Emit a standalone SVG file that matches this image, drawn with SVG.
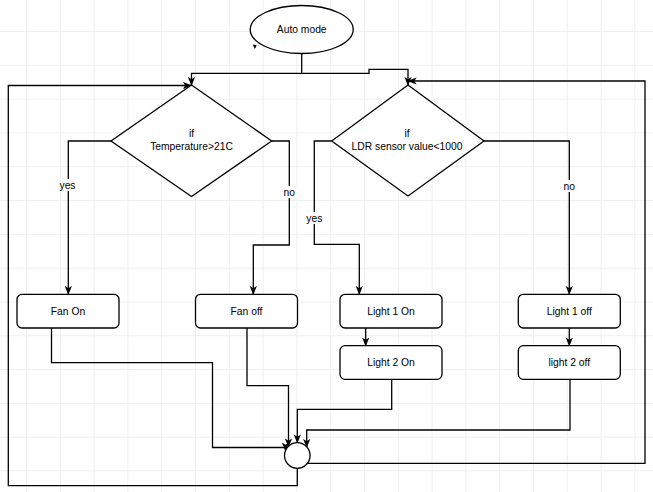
<svg xmlns="http://www.w3.org/2000/svg" width="653" height="492" viewBox="0 0 653 492">
<defs>
<pattern id="grid" patternUnits="userSpaceOnUse" x="26" y="31" width="33.8" height="33.8">
<path d="M0.5,0 V33.8 M0,0.5 H33.8" fill="none" stroke="#efefef" stroke-width="1"/>
</pattern>
<marker id="arr" viewBox="0 0 10 8" refX="9" refY="4" markerWidth="9" markerHeight="8" markerUnits="userSpaceOnUse" orient="auto">
<path d="M0,0 L10,4 L0,8 L2.5,4 z" fill="#000"/>
</marker>
<style>
.shape{fill:#fff;stroke:#000;stroke-width:1.3}
.edge{fill:none;stroke:#000;stroke-width:1.3;marker-end:url(#arr)}
text{font-family:"Liberation Sans",Arial,sans-serif;font-size:10.3px;fill:#000;text-anchor:middle}
.lbl{fill:#fff;stroke:none}
</style>
</defs>
<rect width="653" height="492" fill="#fff"/>
<rect width="653" height="492" fill="url(#grid)"/>

<g id="connectors">
<path class="edge" d="M301.7,53.5 V73.3 H191.5 V85"/>
<path class="edge" d="M301.7,73.3 H369 V69.3 H408 V85"/>
<path class="edge" d="M111,141 H68.3 V294"/>
<path class="edge" d="M271.7,141 H289.3 V245 H253.3 V294"/>
<path class="edge" d="M331.7,141 H314.3 V244.3 H359.3 V294"/>
<path class="edge" d="M484,141 H569.3 V294"/>
<path class="edge" d="M365.7,328 V345.7"/>
<path class="edge" d="M569.3,328 V345.7"/>
<path class="edge" d="M51.5,328 V362.7 H212.5 V447.5 H285.5 V450.5"/>
<path class="edge" d="M247,328 V385.7 H288.5 V446.5"/>
<path class="edge" d="M391.7,379.3 V409.3 H297.3 V442.5"/>
<path class="edge" d="M570,379.3 V430 H306.7 V447"/>
<path class="edge" d="M307.3,463.3 H645 V81 H408.5"/>
<path class="edge" d="M297.3,468.3 V485.7 H8.3 V85.5 H191"/>
<rect class="lbl" x="59" y="179" width="17" height="12"/>
<text x="67.5" y="189">yes</text>
<rect class="lbl" x="282" y="186" width="15" height="12"/>
<text x="289.3" y="196">no</text>
<rect class="lbl" x="306" y="212" width="17" height="12"/>
<text x="314.3" y="221.5">yes</text>
<rect class="lbl" x="562" y="180" width="15" height="12"/>
<text x="569.3" y="190">no</text>
</g>

<g id="auto-mode">
<ellipse class="shape" cx="301.7" cy="29.5" rx="51.5" ry="24"/>
<text x="301.7" y="33.2">Auto mode</text>
<path d="M252.8,44.5 L256.8,45.2 L254.8,49 z" fill="#000"/>
</g>

<g id="temp-decision">
<polygon class="shape" points="191.5,85 271.7,141 191.5,196.5 111,141"/>
<text x="191.5" y="136.5">if</text>
<text x="191.5" y="149.5">Temperature&gt;21C</text>
</g>

<g id="ldr-decision">
<polygon class="shape" points="408,85 484,141 408,196 331.7,141"/>
<text x="407" y="136.5">if</text>
<text x="407" y="149.5">LDR sensor value&lt;1000</text>
</g>

<g id="fan-on">
<rect class="shape" x="17" y="294.3" width="102" height="33.7" rx="5"/>
<text x="68" y="314.8">Fan On</text>
</g>

<g id="fan-off">
<rect class="shape" x="195.5" y="294.3" width="102" height="33.7" rx="5"/>
<text x="246.5" y="314.8">Fan off</text>
</g>

<g id="light1-on">
<rect class="shape" x="340" y="294.3" width="102" height="33.7" rx="5"/>
<text x="391" y="314.8">Light 1 On</text>
</g>

<g id="light2-on">
<rect class="shape" x="340" y="345.7" width="102" height="33.6" rx="5"/>
<text x="391" y="366.2">Light 2 On</text>
</g>

<g id="light1-off">
<rect class="shape" x="518.3" y="294.3" width="102" height="33.7" rx="5"/>
<text x="569.3" y="314.8">Light 1 off</text>
</g>

<g id="light2-off">
<rect class="shape" x="518.3" y="345.7" width="102" height="33.6" rx="5"/>
<text x="569.3" y="366.2">light 2 off</text>
</g>

<g id="merge">
<circle class="shape" cx="297.3" cy="455.5" r="12.8"/>
</g>
</svg>
